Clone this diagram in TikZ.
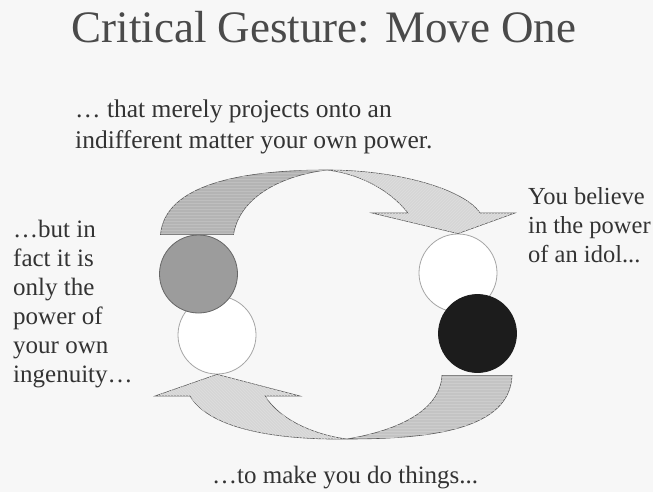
\documentclass[tikz,border=0pt]{standalone}
\usepackage{fontspec}
\setmainfont{Liberation Serif}
\usetikzlibrary{calc, patterns}
\definecolor{slide}{HTML}{F7F7F7}
\definecolor{ink}{HTML}{333333}
\definecolor{headink}{HTML}{4A4A4A}
\definecolor{stone}{HTML}{9C9C9C}
\definecolor{coal}{HTML}{1C1C1C}
\definecolor{bandA}{HTML}{B4B4B4}
\definecolor{bandB}{HTML}{D6D6D6}
\definecolor{bandC}{HTML}{C4C4C4}

\begin{document}
\begin{tikzpicture}[x=1pt, y=-1pt,
  orb/.style={circle, draw=gray!70, line width=0.8pt, minimum size=78pt,
              inner sep=0pt, fill=white},
  band/.style={draw=black!65, line width=0.6pt},
  words/.style={text=ink, font=\fontsize{25}{30}\selectfont, align=left,
                inner sep=0pt, anchor=base west},
]
\fill[slide] (0,0) rectangle (653,492);
\useasboundingbox (0,0) rectangle (653,492);

% circles
\node[orb] (hollowL) at (217,335) {};
\node[orb, fill=stone, draw=black!60] (idea) at (198.5,274) {};
\node[orb] (hollowR) at (458,273) {};
\node[orb, fill=coal, draw=coal] (idol) at (477.5,333.5) {};

% top arrow
\coordinate (topapex) at (327,170);
\filldraw[band, fill=bandA, postaction={pattern=horizontal lines, pattern color=bandA!85!white}]
  ($(idea.north)+(-38,0)$) .. controls (165,185) and (240,170) .. (topapex)
  .. controls (285,175) and (240,195) .. ($(idea.north)+(35,0)$) -- cycle;
\filldraw[band, fill=bandB, postaction={pattern=north east lines, pattern color=bandB!80!white}]
  (topapex) .. controls (400,170) and (465,190) .. (480,213) -- (515,213)
  -- (hollowR.north) -- (372,213) -- (408,213)
  .. controls (390,190) and (360,174) .. (topapex) -- cycle;

% bottom arrow
\coordinate (botapex) at (347,439);
\filldraw[band, fill=bandC, postaction={pattern=horizontal lines, pattern color=bandC!85!white}]
  ($(idol.south)+(34.5,2.5)$) .. controls (510,430) and (430,439) .. (botapex)
  .. controls (400,430) and (440,410) .. ($(idol.south)+(-35.5,2.5)$) -- cycle;
\filldraw[band, fill=bandB, postaction={pattern=north west lines, pattern color=bandB!80!white}]
  (botapex) .. controls (280,440) and (210,430) .. (190,396) -- (155,396)
  -- (hollowL.south) -- (300,396) -- (265,396)
  .. controls (280,420) and (315,435) .. (botapex) -- cycle;

% texts (base = last line)
\node[font=\fontsize{45}{54}\selectfont, text=headink, anchor=base] (title) at (324,43) {Critical Gesture: Move One};
\node[words, font=\fontsize{25.5}{30}\selectfont] (claim) at (75,148) {… that merely projects onto an\\indifferent matter your own power.};
\node[words, font=\fontsize{24.5}{29}\selectfont] (belief) at (528,262) {You believe\\in the power\\of an idol...};
\node[words, font=\fontsize{25}{29}\selectfont] (truth) at (13,382) {…but in\\fact it is\\only the\\power of\\your own\\ingenuity…};
\node[words] (effect) at (212,483) {…to make you do things...};
\end{tikzpicture}
\end{document}
